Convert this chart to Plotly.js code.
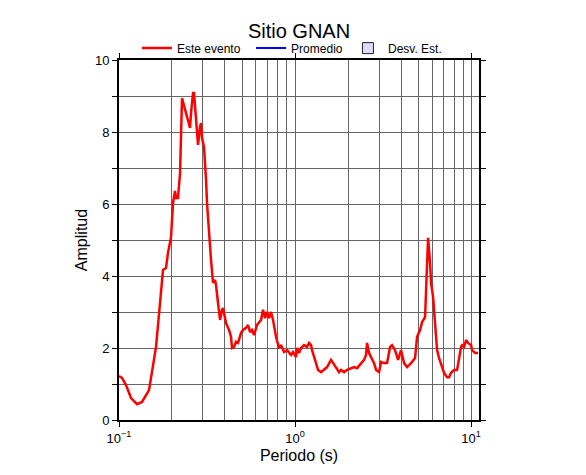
<!DOCTYPE html>
<html>
<head>
<meta charset="utf-8">
<script src="https://cdn.plot.ly/plotly-3.0.1.min.js"></script>
<style>html,body{margin:0;padding:0;background:#fff;}#chart{width:586px;height:475px;}</style>
</head>
<body>
<div id="chart"></div>
<script>
// Period (s) of the event spectrum
const periodo = [0.1,0.104,0.1096,0.117,0.1266,0.1351,0.1481,0.158,0.1623,0.171,0.1778,0.1849,0.1898,0.1975,0.2027,0.2081,0.2108,0.2164,0.2222,0.228,0.2403,0.2466,0.2532,0.2566,0.2634,0.2668,0.2738,0.2811,0.2886,0.2924,0.2963,0.3041,0.3122,0.3162,0.3332,0.342,0.3511,0.3557,0.3652,0.3749,0.3848,0.3899,0.4055,0.4217,0.4329,0.4385,0.4502,0.4621,0.4745,0.4935,0.5066,0.5268,0.5408,0.5551,0.5699,0.5848,0.6083,0.641,0.658,0.6754,0.6934,0.7118,0.7306,0.7499,0.7798,0.8111,0.8326,0.866,0.9006,0.949,0.9742,1.013,1.026,1.054,1.082,1.125,1.17,1.201,1.233,1.249,1.316,1.351,1.405,1.461,1.52,1.602,1.71,1.778,1.825,1.898,1.975,2.081,2.164,2.251,2.371,2.466,2.531,2.565,2.633,2.703,2.811,2.886,3.001,3.081,3.204,3.332,3.466,3.557,3.7,3.848,4.002,4.162,4.329,4.561,4.682,4.807,4.935,5.132,5.268,5.479,5.551,5.623,5.699,5.848,5.925,6.082,6.243,6.41,6.579,6.842,7.024,7.305,7.499,7.698,8.006,8.326,8.547,8.774,8.89,9.125,9.367,9.616,10.0,10.13,10.54,10.96];
// Amplitude of this event
const esteEvento = [1.22,1.17,0.97,0.61,0.44,0.50,0.83,1.75,2.03,3.25,4.17,4.22,4.64,5.08,6.03,6.36,6.17,6.17,6.86,8.94,8.53,8.28,8.11,8.53,9.08,9.08,8.25,7.64,8.14,8.25,7.83,7.58,6.67,6.03,4.44,3.81,3.89,3.75,3.25,2.78,3.06,3.11,2.69,2.50,2.31,2.00,2.03,2.17,2.14,2.42,2.50,2.56,2.64,2.44,2.50,2.36,2.64,2.78,3.06,2.83,3.00,2.83,3.00,2.78,2.31,2.00,2.08,1.89,1.94,1.81,1.89,1.75,2.00,1.86,2.00,2.08,2.03,2.14,2.08,1.94,1.58,1.39,1.33,1.39,1.47,1.67,1.44,1.33,1.39,1.33,1.39,1.44,1.47,1.44,1.58,1.67,1.81,2.14,1.86,1.75,1.58,1.39,1.33,1.61,1.58,1.58,2.03,2.08,1.94,1.67,1.94,1.58,1.47,1.58,1.64,1.72,2.31,2.50,2.72,2.86,3.61,4.53,5.06,4.36,3.81,3.42,2.58,1.94,1.72,1.44,1.31,1.19,1.19,1.31,1.39,1.39,1.75,2.03,2.08,2.03,2.22,2.14,2.08,1.94,1.86,1.86];
// Legend-only series (no values visible in this chart)
const promedioX = [null];
const promedioY = [null];
const desvX = [null];
const desvY = [null];
// Tick labels
const xTickVals = [0.1, 1, 10];
const xTickText = ['10<sup>\u22121</sup>', '10<sup>0</sup>', '10<sup>1</sup>'];
const xMinorVals = [0.2,0.3,0.4,0.5,0.6,0.7,0.8,0.9,2,3,4,5,6,7,8,9];
const yTickVals = [0, 2, 4, 6, 8, 10];
const yTickText = ['0', '2', '4', '6', '8', '10'];

const FONT = 'Liberation Sans, Arial, Helvetica, sans-serif';
const GRID = '#666666';

const traces = [
  {x: periodo, y: esteEvento, type: 'scatter', mode: 'lines', name: 'Este evento',
   line: {color: '#ff0000', width: 2.5}, legend: 'legend'},
  {x: promedioX, y: promedioY, type: 'scatter', mode: 'lines', name: 'Promedio',
   line: {color: '#0000ff', width: 2}, legend: 'legend2'},
  {x: desvX, y: desvY, type: 'scatter', mode: 'markers', name: 'Desv. Est.',
   marker: {symbol: 'square', size: 11, color: '#dcdcf8', line: {color: '#222', width: 1}}, legend: 'legend3'}
];

function leg(x) {
  return {orientation: 'h', x: x, xanchor: 'left', y: 1.033, yanchor: 'middle',
          font: {size: 12, family: FONT, color: '#000'}, bgcolor: 'rgba(0,0,0,0)'};
}

const layout = {
  width: 586, height: 475,
  margin: {l: 119, r: 107, t: 60, b: 55},
  paper_bgcolor: '#fff', plot_bgcolor: '#fff',
  font: {family: FONT, color: '#000', size: 13},
  title: {text: 'Sitio GNAN', font: {size: 20, family: FONT, color: '#000'},
          x: 0.5, xref: 'paper', xanchor: 'center', y: 0.935, yref: 'container', yanchor: 'middle'},
  showlegend: true,
  legend: leg(0.05),
  legend2: leg(0.367),
  legend3: leg(0.636),
  xaxis: {type: 'log', range: [-1, 1.045], autorange: false,
          tickmode: 'array', tickvals: xTickVals, ticktext: xTickText,
          ticks: 'outside', ticklen: 5, tickwidth: 1, tickcolor: '#000',
          showline: true, linewidth: 2, linecolor: '#000', mirror: 'ticks',
          showgrid: true, gridcolor: GRID, gridwidth: 1, zeroline: false,
          minor: {tickmode: 'array', tickvals: xMinorVals, showgrid: true, gridcolor: GRID, gridwidth: 1, ticks: ''},
          tickfont: {size: 13, family: FONT, color: '#000'},
          title: {text: 'Periodo (s)', font: {size: 16, family: FONT, color: '#000'}, standoff: 5}},
  yaxis: {range: [0, 10], autorange: false,
          tickmode: 'array', tickvals: yTickVals, ticktext: yTickText,
          ticks: 'outside', ticklen: 5, tickwidth: 1, tickcolor: '#000',
          showline: true, linewidth: 2, linecolor: '#000', mirror: 'ticks',
          showgrid: true, gridcolor: GRID, gridwidth: 1, zeroline: false,
          minor: {dtick: 1, showgrid: true, gridcolor: GRID, gridwidth: 1, ticks: 'outside', ticklen: 5, tickcolor: '#000'},
          tickfont: {size: 13, family: FONT, color: '#000'},
          title: {text: 'Amplitud', font: {size: 16, family: FONT, color: '#000'}, standoff: 3}}
};

Plotly.newPlot('chart', traces, layout, {staticPlot: true, displayModeBar: false});
</script>
</body>
</html>
